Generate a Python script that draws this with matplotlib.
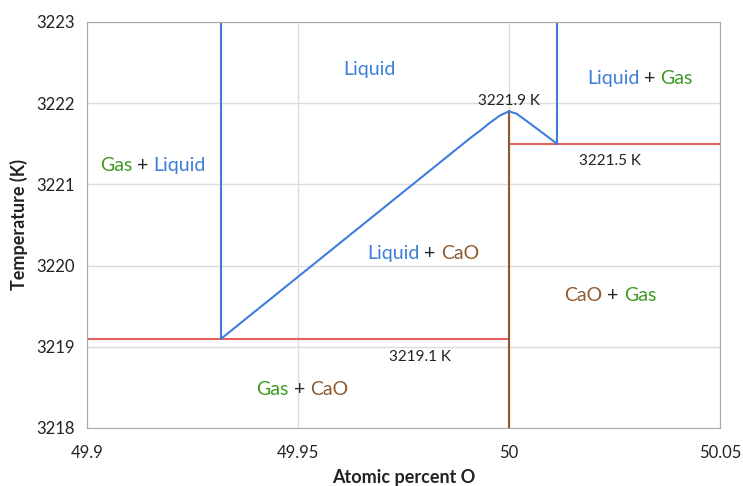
import matplotlib
matplotlib.use('Agg')
from matplotlib import pyplot as plt

# Ca-O phase diagram near 50 at.% O
x_min, x_max = 49.9, 50.05
t_min, t_max = 3218, 3223

t_eutectic = 3219.1   # Gas + Liquid -> CaO
t_congruent = 3221.9  # CaO melting point
t_monotectic = 3221.5

# liquidus of CaO (left branch rises to the congruent point, right branch drops)
liq_x = [49.9318, 49.9908, 49.9931, 49.9955, 49.9979, 50.0,
         50.0018, 50.0042, 50.0073, 50.0114]
liq_t = [3219.1, 3221.57, 3221.66, 3221.76, 3221.85, 3221.9,
         3221.87, 3221.78, 3221.66, 3221.5]

# miscibility gap boundaries
gap_left_x = 49.9318
gap_right_x = 50.0114
cao_x = 50.0

blue = '#3d7edb'
green = '#3b9a22'
brown = '#8e5a30'
red = '#e3605e'
dark = '#222222'

plt.rcParams['font.family'] = ['Lato', 'DejaVu Sans']

fig = plt.figure(figsize=(7.43, 4.86), dpi=100)
ax = fig.add_axes([87 / 743, 58 / 486, 633 / 743, 406 / 486])

ax.plot([x_min, cao_x], [t_eutectic, t_eutectic], color=red, lw=1.5)
ax.plot([cao_x, x_max], [t_monotectic, t_monotectic], color=red, lw=1.5)
ax.plot([cao_x, cao_x], [t_min, t_congruent], color=brown, lw=1.5)
ax.plot(liq_x, liq_t, color=blue, lw=1.5, solid_joinstyle='round')
ax.plot([gap_left_x, gap_left_x], [t_eutectic, t_max], color=blue, lw=1.5)
ax.plot([gap_right_x, gap_right_x], [t_monotectic, t_max], color=blue, lw=1.5)

ax.set_xlim(x_min, x_max)
ax.set_ylim(t_min, t_max)
ax.set_xticks([49.9, 49.95, 50, 50.05])
ax.set_xticklabels(['49.9', '49.95', '50', '50.05'])
ax.set_yticks(range(3218, 3224))
ax.grid(True, color='#dcdcdc', lw=1)
ax.set_axisbelow(True)
for s in ax.spines.values():
    s.set_color('#a8a8a8')
ax.tick_params(length=0, labelsize=12, colors=dark, pad=9)
ax.tick_params(axis='x', pad=12)

ax.set_xlabel('Atomic percent O', fontsize=13, fontweight='bold', color=dark, labelpad=6)
ax.set_ylabel('Temperature (K)', fontsize=13, fontweight='bold', color=dark, labelpad=6)


def phase_label(x, y, parts):
    # draw "A + B" with each phase in its own colour, centred on (x, y)
    renderer = fig.canvas.get_renderer()
    texts = []
    for word, col in parts:
        texts.append(ax.text(0, 0, word, color=col, fontsize=14, va='center', ha='left'))
    widths = [t.get_window_extent(renderer).width for t in texts]
    total = sum(widths)
    x0, y0 = ax.transData.transform((x, y))
    cur = x0 - total / 2
    for t, w in zip(texts, widths):
        t.set_transform(None)
        t.set_position((cur, y0))
        cur += w


sp = ' + '
phase_label(49.967, 3222.41, [('Liquid', blue)])
phase_label(50.031, 3222.31, [('Liquid', blue), (sp, dark), ('Gas', green)])
phase_label(49.9156, 3221.23, [('Gas', green), (sp, dark), ('Liquid', blue)])
phase_label(49.9796, 3220.155, [('Liquid', blue), (sp, dark), ('CaO', brown)])
phase_label(50.024, 3219.63, [('CaO', brown), (sp, dark), ('Gas', green)])
phase_label(49.951, 3218.47, [('Gas', green), (sp, dark), ('CaO', brown)])

ax.text(cao_x, 3222.03, f'{t_congruent} K', fontsize=11, color=dark, ha='center', va='center')
ax.text(50.024, 3221.29, f'{t_monotectic} K', fontsize=11, color=dark, ha='center', va='center')
ax.text(49.979, 3218.87, f'{t_eutectic} K', fontsize=11, color=dark, ha='center', va='center')

fig.savefig('out.png', dpi=100)
